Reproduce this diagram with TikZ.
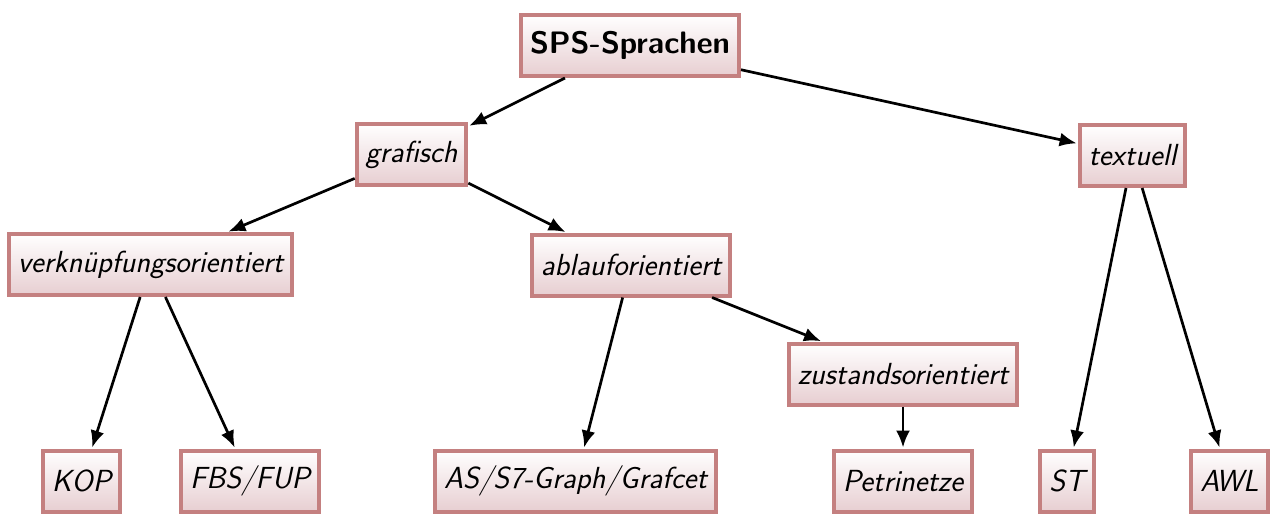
\documentclass[tikz,border=0pt]{standalone}
\usepackage{fontspec}
\usetikzlibrary{arrows.meta,shadings}
\definecolor{boxborder}{RGB}{196,128,128}
\definecolor{boxbottom}{RGB}{231,206,209}
\begin{document}
\begin{tikzpicture}[x=1pt,y=-1pt,
  box/.style={draw=boxborder,line width=4pt,top color=white,bottom color=boxbottom,
    minimum height=61pt,inner xsep=9pt,font=\fontsize{30.5}{36}\selectfont\sffamily\itshape},
  topbox/.style={box,font=\fontsize{31}{36}\selectfont\sffamily\bfseries},
  arr/.style={-{Latex[length=17pt,width=14pt]},line width=2.7pt,black,shorten >=1pt}]
\useasboundingbox (0,0) rectangle (1271,515);
\node[topbox] (sps) at (630,45.5) {SPS-Sprachen};
\node[box] (graf) at (411.5,154.5) {grafisch};
\node[box] (text) at (1132.5,155.5) {textuell};
\node[box] (verk) at (150.5,264.5) {verknüpfungsorientiert};
\node[box] (abl) at (631,265) {ablauforientiert};
\node[box] (zust) at (903,374) {zustandsorientiert};
\node[box] (kop) at (81.5,481) {KOP};
\node[box] (fbs) at (250,481) {FBS/FUP};
\node[box] (as) at (575.5,481) {AS/S7-Graph/Grafcet};
\node[box] (petri) at (903,481) {Petrinetze};
\node[box] (st) at (1067,481) {ST};
\node[box] (awl) at (1229.5,481) {AWL};
\draw[arr] (sps) -- (graf);
\draw[arr] (sps) -- (text);
\draw[arr] (graf) -- (verk);
\draw[arr] (graf) -- (abl);
\draw[arr] (verk) -- (kop);
\draw[arr] (verk) -- (fbs);
\draw[arr] (abl) -- (as);
\draw[arr] (abl) -- (zust);
\draw[arr] (zust) -- (petri);
\draw[arr] (text) -- (st);
\draw[arr] (text) -- (awl);
\end{tikzpicture}
\end{document}
